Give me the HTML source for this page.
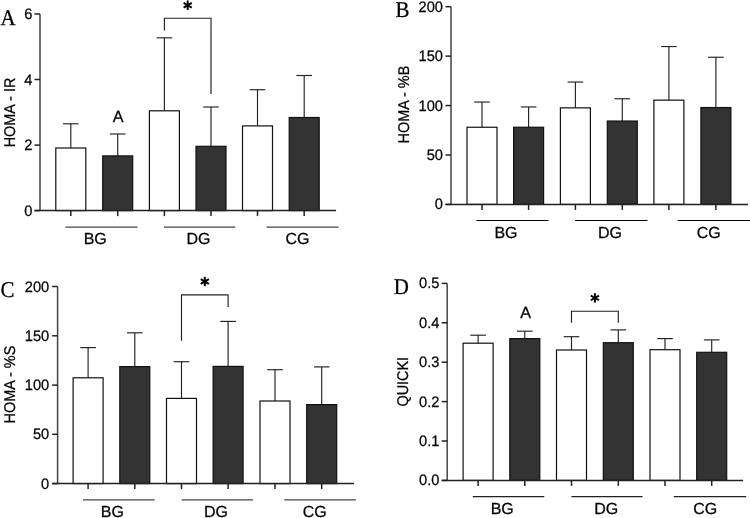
<!DOCTYPE html>
<html><head><meta charset="utf-8"><style>
html,body{margin:0;padding:0;background:#fff;}
body{width:750px;height:518px;overflow:hidden;font-family:"Liberation Sans",sans-serif;}
svg{display:block;will-change:transform;}
text{text-rendering:geometricPrecision;stroke:#000;stroke-width:0.25px;paint-order:stroke;}
</style></head><body>
<svg width="750" height="518" viewBox="0 0 750 518">
<rect width="750" height="518" fill="#fff"/>
<line x1="70.80" y1="123.80" x2="70.80" y2="148.00" stroke="#222" stroke-width="1.15"/>
<line x1="63.00" y1="123.80" x2="78.60" y2="123.80" stroke="#222" stroke-width="1.15"/>
<rect x="55.80" y="148.00" width="30.00" height="62.60" fill="#fff" stroke="#111" stroke-width="1.2"/>
<line x1="70.80" y1="210.60" x2="70.80" y2="216.10" stroke="#222" stroke-width="1.5"/>
<line x1="117.70" y1="134.00" x2="117.70" y2="155.90" stroke="#222" stroke-width="1.15"/>
<line x1="109.90" y1="134.00" x2="125.50" y2="134.00" stroke="#222" stroke-width="1.15"/>
<rect x="102.70" y="155.90" width="30.00" height="54.70" fill="#333" stroke="#111" stroke-width="1.2"/>
<line x1="117.70" y1="210.60" x2="117.70" y2="216.10" stroke="#222" stroke-width="1.5"/>
<line x1="164.40" y1="37.80" x2="164.40" y2="110.80" stroke="#222" stroke-width="1.15"/>
<line x1="156.60" y1="37.80" x2="172.20" y2="37.80" stroke="#222" stroke-width="1.15"/>
<rect x="149.40" y="110.80" width="30.00" height="99.80" fill="#fff" stroke="#111" stroke-width="1.2"/>
<line x1="164.40" y1="210.60" x2="164.40" y2="216.10" stroke="#222" stroke-width="1.5"/>
<line x1="211.00" y1="107.00" x2="211.00" y2="146.30" stroke="#222" stroke-width="1.15"/>
<line x1="203.20" y1="107.00" x2="218.80" y2="107.00" stroke="#222" stroke-width="1.15"/>
<rect x="196.00" y="146.30" width="30.00" height="64.30" fill="#333" stroke="#111" stroke-width="1.2"/>
<line x1="211.00" y1="210.60" x2="211.00" y2="216.10" stroke="#222" stroke-width="1.5"/>
<line x1="257.50" y1="89.70" x2="257.50" y2="125.90" stroke="#222" stroke-width="1.15"/>
<line x1="249.70" y1="89.70" x2="265.30" y2="89.70" stroke="#222" stroke-width="1.15"/>
<rect x="242.50" y="125.90" width="30.00" height="84.70" fill="#fff" stroke="#111" stroke-width="1.2"/>
<line x1="257.50" y1="210.60" x2="257.50" y2="216.10" stroke="#222" stroke-width="1.5"/>
<line x1="304.20" y1="75.50" x2="304.20" y2="117.50" stroke="#222" stroke-width="1.15"/>
<line x1="296.40" y1="75.50" x2="312.00" y2="75.50" stroke="#222" stroke-width="1.15"/>
<rect x="289.20" y="117.50" width="30.00" height="93.10" fill="#333" stroke="#111" stroke-width="1.2"/>
<line x1="304.20" y1="210.60" x2="304.20" y2="216.10" stroke="#222" stroke-width="1.5"/>
<line x1="40.00" y1="14.00" x2="40.00" y2="210.60" stroke="#444" stroke-width="1.5"/>
<line x1="34.50" y1="210.60" x2="336.10" y2="210.60" stroke="#222" stroke-width="1.5"/>
<line x1="34.50" y1="210.60" x2="40.00" y2="210.60" stroke="#222" stroke-width="1.5"/>
<text x="0" y="0" font-size="15.2" font-family="Liberation Sans" text-anchor="end" transform="translate(32.50,215.60) scale(0.965,1)">0</text>
<line x1="34.50" y1="145.10" x2="40.00" y2="145.10" stroke="#222" stroke-width="1.5"/>
<text x="0" y="0" font-size="15.2" font-family="Liberation Sans" text-anchor="end" transform="translate(32.50,150.10) scale(0.965,1)">2</text>
<line x1="34.50" y1="79.50" x2="40.00" y2="79.50" stroke="#222" stroke-width="1.5"/>
<text x="0" y="0" font-size="15.2" font-family="Liberation Sans" text-anchor="end" transform="translate(32.50,84.50) scale(0.965,1)">4</text>
<line x1="34.50" y1="14.00" x2="40.00" y2="14.00" stroke="#222" stroke-width="1.5"/>
<text x="0" y="0" font-size="15.2" font-family="Liberation Sans" text-anchor="end" transform="translate(32.50,19.00) scale(0.965,1)">6</text>
<line x1="65.50" y1="227.10" x2="137.50" y2="227.10" stroke="#444" stroke-width="1.3"/>
<line x1="164.00" y1="227.10" x2="235.30" y2="227.10" stroke="#444" stroke-width="1.3"/>
<line x1="266.50" y1="227.10" x2="338.50" y2="227.10" stroke="#444" stroke-width="1.3"/>
<text x="0" y="0" font-size="16" font-family="Liberation Sans" text-anchor="middle" transform="translate(95.20,244.00) scale(1.0,1)">BG</text>
<text x="0" y="0" font-size="16" font-family="Liberation Sans" text-anchor="middle" transform="translate(198.40,244.00) scale(1.0,1)">DG</text>
<text x="0" y="0" font-size="16" font-family="Liberation Sans" text-anchor="middle" transform="translate(297.40,244.00) scale(1.0,1)">CG</text>
<text x="0" y="0" font-size="15.5" font-family="Liberation Sans" text-anchor="middle" transform="translate(15.00,112.50) rotate(-90) scale(0.93,1)">HOMA - IR</text>
<text x="0" y="0" font-size="22.5" font-family="Liberation Serif" transform="translate(0.50,25.00) scale(0.933,1)">A</text>
<polyline points="164.4,30.6 164.4,18.2 211.0,18.2 211.0,94" fill="none" stroke="#222" stroke-width="1.15"/>
<line x1="187.70" y1="0.50" x2="187.70" y2="9.90" stroke="#000" stroke-width="2.0"/>
<line x1="183.63" y1="2.85" x2="191.77" y2="7.55" stroke="#000" stroke-width="2.0"/>
<line x1="183.63" y1="7.55" x2="191.77" y2="2.85" stroke="#000" stroke-width="2.0"/>
<text x="0" y="0" font-size="16.2" font-family="Liberation Sans" text-anchor="middle" transform="translate(118.20,121.80) scale(1.0,1)">A</text>
<line x1="482.00" y1="102.05" x2="482.00" y2="127.25" stroke="#222" stroke-width="1.15"/>
<line x1="474.20" y1="102.05" x2="489.80" y2="102.05" stroke="#222" stroke-width="1.15"/>
<rect x="467.00" y="127.25" width="30.00" height="77.15" fill="#fff" stroke="#111" stroke-width="1.2"/>
<line x1="482.00" y1="204.40" x2="482.00" y2="209.90" stroke="#222" stroke-width="1.5"/>
<line x1="528.60" y1="106.95" x2="528.60" y2="127.25" stroke="#222" stroke-width="1.15"/>
<line x1="520.80" y1="106.95" x2="536.40" y2="106.95" stroke="#222" stroke-width="1.15"/>
<rect x="513.60" y="127.25" width="30.00" height="77.15" fill="#333" stroke="#111" stroke-width="1.2"/>
<line x1="528.60" y1="204.40" x2="528.60" y2="209.90" stroke="#222" stroke-width="1.5"/>
<line x1="575.40" y1="82.05" x2="575.40" y2="107.85" stroke="#222" stroke-width="1.15"/>
<line x1="567.60" y1="82.05" x2="583.20" y2="82.05" stroke="#222" stroke-width="1.15"/>
<rect x="560.40" y="107.85" width="30.00" height="96.55" fill="#fff" stroke="#111" stroke-width="1.2"/>
<line x1="575.40" y1="204.40" x2="575.40" y2="209.90" stroke="#222" stroke-width="1.5"/>
<line x1="622.30" y1="98.75" x2="622.30" y2="121.05" stroke="#222" stroke-width="1.15"/>
<line x1="614.50" y1="98.75" x2="630.10" y2="98.75" stroke="#222" stroke-width="1.15"/>
<rect x="607.30" y="121.05" width="30.00" height="83.35" fill="#333" stroke="#111" stroke-width="1.2"/>
<line x1="622.30" y1="204.40" x2="622.30" y2="209.90" stroke="#222" stroke-width="1.5"/>
<line x1="668.90" y1="46.55" x2="668.90" y2="100.15" stroke="#222" stroke-width="1.15"/>
<line x1="661.10" y1="46.55" x2="676.70" y2="46.55" stroke="#222" stroke-width="1.15"/>
<rect x="653.90" y="100.15" width="30.00" height="104.25" fill="#fff" stroke="#111" stroke-width="1.2"/>
<line x1="668.90" y1="204.40" x2="668.90" y2="209.90" stroke="#222" stroke-width="1.5"/>
<line x1="715.90" y1="57.25" x2="715.90" y2="107.55" stroke="#222" stroke-width="1.15"/>
<line x1="708.10" y1="57.25" x2="723.70" y2="57.25" stroke="#222" stroke-width="1.15"/>
<rect x="700.90" y="107.55" width="30.00" height="96.85" fill="#333" stroke="#111" stroke-width="1.2"/>
<line x1="715.90" y1="204.40" x2="715.90" y2="209.90" stroke="#222" stroke-width="1.5"/>
<line x1="451.00" y1="6.70" x2="451.00" y2="204.40" stroke="#444" stroke-width="1.5"/>
<line x1="445.50" y1="204.40" x2="748.00" y2="204.40" stroke="#222" stroke-width="1.5"/>
<line x1="445.50" y1="204.40" x2="451.00" y2="204.40" stroke="#222" stroke-width="1.5"/>
<text x="0" y="0" font-size="15.2" font-family="Liberation Sans" text-anchor="end" transform="translate(443.00,209.40) scale(0.965,1)">0</text>
<line x1="445.50" y1="154.97" x2="451.00" y2="154.97" stroke="#222" stroke-width="1.5"/>
<text x="0" y="0" font-size="15.2" font-family="Liberation Sans" text-anchor="end" transform="translate(443.00,159.97) scale(0.965,1)">50</text>
<line x1="445.50" y1="105.55" x2="451.00" y2="105.55" stroke="#222" stroke-width="1.5"/>
<text x="0" y="0" font-size="15.2" font-family="Liberation Sans" text-anchor="end" transform="translate(443.00,110.55) scale(0.965,1)">100</text>
<line x1="445.50" y1="56.12" x2="451.00" y2="56.12" stroke="#222" stroke-width="1.5"/>
<text x="0" y="0" font-size="15.2" font-family="Liberation Sans" text-anchor="end" transform="translate(443.00,61.12) scale(0.965,1)">150</text>
<line x1="445.50" y1="6.70" x2="451.00" y2="6.70" stroke="#222" stroke-width="1.5"/>
<text x="0" y="0" font-size="15.2" font-family="Liberation Sans" text-anchor="end" transform="translate(443.00,11.70) scale(0.965,1)">200</text>
<line x1="476.50" y1="220.50" x2="548.50" y2="220.50" stroke="#000" stroke-width="1.0"/>
<line x1="575.20" y1="220.50" x2="647.50" y2="220.50" stroke="#000" stroke-width="1.0"/>
<line x1="677.70" y1="220.50" x2="750.00" y2="220.50" stroke="#000" stroke-width="1.0"/>
<text x="0" y="0" font-size="16" font-family="Liberation Sans" text-anchor="middle" transform="translate(506.00,237.80) scale(1.0,1)">BG</text>
<text x="0" y="0" font-size="16" font-family="Liberation Sans" text-anchor="middle" transform="translate(610.00,237.80) scale(1.0,1)">DG</text>
<text x="0" y="0" font-size="16" font-family="Liberation Sans" text-anchor="middle" transform="translate(708.80,237.80) scale(1.0,1)">CG</text>
<text x="0" y="0" font-size="15.5" font-family="Liberation Sans" text-anchor="middle" transform="translate(409.00,104.60) rotate(-90) scale(0.93,1)">HOMA - %B</text>
<text x="0" y="0" font-size="22.5" font-family="Liberation Serif" transform="translate(395.50,17.00) scale(0.933,1)">B</text>
<line x1="88.10" y1="347.60" x2="88.10" y2="377.80" stroke="#222" stroke-width="1.15"/>
<line x1="80.30" y1="347.60" x2="95.90" y2="347.60" stroke="#222" stroke-width="1.15"/>
<rect x="73.10" y="377.80" width="30.00" height="105.80" fill="#fff" stroke="#111" stroke-width="1.2"/>
<line x1="88.10" y1="483.60" x2="88.10" y2="489.10" stroke="#222" stroke-width="1.5"/>
<line x1="134.80" y1="332.80" x2="134.80" y2="366.60" stroke="#222" stroke-width="1.15"/>
<line x1="127.00" y1="332.80" x2="142.60" y2="332.80" stroke="#222" stroke-width="1.15"/>
<rect x="119.80" y="366.60" width="30.00" height="117.00" fill="#333" stroke="#111" stroke-width="1.2"/>
<line x1="134.80" y1="483.60" x2="134.80" y2="489.10" stroke="#222" stroke-width="1.5"/>
<line x1="181.50" y1="361.70" x2="181.50" y2="398.40" stroke="#222" stroke-width="1.15"/>
<line x1="173.70" y1="361.70" x2="189.30" y2="361.70" stroke="#222" stroke-width="1.15"/>
<rect x="166.50" y="398.40" width="30.00" height="85.20" fill="#fff" stroke="#111" stroke-width="1.2"/>
<line x1="181.50" y1="483.60" x2="181.50" y2="489.10" stroke="#222" stroke-width="1.5"/>
<line x1="228.10" y1="321.40" x2="228.10" y2="366.40" stroke="#222" stroke-width="1.15"/>
<line x1="220.30" y1="321.40" x2="235.90" y2="321.40" stroke="#222" stroke-width="1.15"/>
<rect x="213.10" y="366.40" width="30.00" height="117.20" fill="#333" stroke="#111" stroke-width="1.2"/>
<line x1="228.10" y1="483.60" x2="228.10" y2="489.10" stroke="#222" stroke-width="1.5"/>
<line x1="275.00" y1="369.70" x2="275.00" y2="401.00" stroke="#222" stroke-width="1.15"/>
<line x1="267.20" y1="369.70" x2="282.80" y2="369.70" stroke="#222" stroke-width="1.15"/>
<rect x="260.00" y="401.00" width="30.00" height="82.60" fill="#fff" stroke="#111" stroke-width="1.2"/>
<line x1="275.00" y1="483.60" x2="275.00" y2="489.10" stroke="#222" stroke-width="1.5"/>
<line x1="321.70" y1="366.90" x2="321.70" y2="404.60" stroke="#222" stroke-width="1.15"/>
<line x1="313.90" y1="366.90" x2="329.50" y2="366.90" stroke="#222" stroke-width="1.15"/>
<rect x="306.70" y="404.60" width="30.00" height="79.00" fill="#333" stroke="#111" stroke-width="1.2"/>
<line x1="321.70" y1="483.60" x2="321.70" y2="489.10" stroke="#222" stroke-width="1.5"/>
<line x1="57.60" y1="286.50" x2="57.60" y2="483.60" stroke="#444" stroke-width="1.5"/>
<line x1="52.10" y1="483.60" x2="354.00" y2="483.60" stroke="#222" stroke-width="1.5"/>
<line x1="52.10" y1="483.60" x2="57.60" y2="483.60" stroke="#222" stroke-width="1.5"/>
<text x="0" y="0" font-size="15.2" font-family="Liberation Sans" text-anchor="end" transform="translate(49.20,488.60) scale(0.965,1)">0</text>
<line x1="52.10" y1="434.30" x2="57.60" y2="434.30" stroke="#222" stroke-width="1.5"/>
<text x="0" y="0" font-size="15.2" font-family="Liberation Sans" text-anchor="end" transform="translate(49.20,439.30) scale(0.965,1)">50</text>
<line x1="52.10" y1="385.10" x2="57.60" y2="385.10" stroke="#222" stroke-width="1.5"/>
<text x="0" y="0" font-size="15.2" font-family="Liberation Sans" text-anchor="end" transform="translate(49.20,390.10) scale(0.965,1)">100</text>
<line x1="52.10" y1="335.80" x2="57.60" y2="335.80" stroke="#222" stroke-width="1.5"/>
<text x="0" y="0" font-size="15.2" font-family="Liberation Sans" text-anchor="end" transform="translate(49.20,340.80) scale(0.965,1)">150</text>
<line x1="52.10" y1="286.50" x2="57.60" y2="286.50" stroke="#222" stroke-width="1.5"/>
<text x="0" y="0" font-size="15.2" font-family="Liberation Sans" text-anchor="end" transform="translate(49.20,291.50) scale(0.965,1)">200</text>
<line x1="83.00" y1="499.90" x2="154.60" y2="499.90" stroke="#444" stroke-width="1.3"/>
<line x1="181.70" y1="499.90" x2="253.10" y2="499.90" stroke="#444" stroke-width="1.3"/>
<line x1="284.30" y1="499.90" x2="355.80" y2="499.90" stroke="#444" stroke-width="1.3"/>
<text x="0" y="0" font-size="16" font-family="Liberation Sans" text-anchor="middle" transform="translate(112.40,516.60) scale(1.0,1)">BG</text>
<text x="0" y="0" font-size="16" font-family="Liberation Sans" text-anchor="middle" transform="translate(215.90,516.60) scale(1.0,1)">DG</text>
<text x="0" y="0" font-size="16" font-family="Liberation Sans" text-anchor="middle" transform="translate(314.70,516.60) scale(1.0,1)">CG</text>
<text x="0" y="0" font-size="15.5" font-family="Liberation Sans" text-anchor="middle" transform="translate(14.60,384.60) rotate(-90) scale(0.93,1)">HOMA - %S</text>
<text x="0" y="0" font-size="22.5" font-family="Liberation Serif" transform="translate(0.40,297.00) scale(0.933,1)">C</text>
<polyline points="181.5,340.7 181.5,294.8 228.1,294.8 228.1,307.0" fill="none" stroke="#222" stroke-width="1.15"/>
<line x1="204.80" y1="276.80" x2="204.80" y2="286.20" stroke="#000" stroke-width="2.0"/>
<line x1="200.73" y1="279.15" x2="208.87" y2="283.85" stroke="#000" stroke-width="2.0"/>
<line x1="200.73" y1="283.85" x2="208.87" y2="279.15" stroke="#000" stroke-width="2.0"/>
<line x1="478.10" y1="335.20" x2="478.10" y2="343.20" stroke="#222" stroke-width="1.15"/>
<line x1="470.30" y1="335.20" x2="485.90" y2="335.20" stroke="#222" stroke-width="1.15"/>
<rect x="463.10" y="343.20" width="30.00" height="137.20" fill="#fff" stroke="#111" stroke-width="1.2"/>
<line x1="478.10" y1="480.40" x2="478.10" y2="485.90" stroke="#222" stroke-width="1.5"/>
<line x1="524.80" y1="331.20" x2="524.80" y2="338.60" stroke="#222" stroke-width="1.15"/>
<line x1="517.00" y1="331.20" x2="532.60" y2="331.20" stroke="#222" stroke-width="1.15"/>
<rect x="509.80" y="338.60" width="30.00" height="141.80" fill="#333" stroke="#111" stroke-width="1.2"/>
<line x1="524.80" y1="480.40" x2="524.80" y2="485.90" stroke="#222" stroke-width="1.5"/>
<line x1="571.50" y1="336.70" x2="571.50" y2="350.00" stroke="#222" stroke-width="1.15"/>
<line x1="563.70" y1="336.70" x2="579.30" y2="336.70" stroke="#222" stroke-width="1.15"/>
<rect x="556.50" y="350.00" width="30.00" height="130.40" fill="#fff" stroke="#111" stroke-width="1.2"/>
<line x1="571.50" y1="480.40" x2="571.50" y2="485.90" stroke="#222" stroke-width="1.5"/>
<line x1="618.30" y1="329.90" x2="618.30" y2="342.70" stroke="#222" stroke-width="1.15"/>
<line x1="610.50" y1="329.90" x2="626.10" y2="329.90" stroke="#222" stroke-width="1.15"/>
<rect x="603.30" y="342.70" width="30.00" height="137.70" fill="#333" stroke="#111" stroke-width="1.2"/>
<line x1="618.30" y1="480.40" x2="618.30" y2="485.90" stroke="#222" stroke-width="1.5"/>
<line x1="665.00" y1="338.60" x2="665.00" y2="349.70" stroke="#222" stroke-width="1.15"/>
<line x1="657.20" y1="338.60" x2="672.80" y2="338.60" stroke="#222" stroke-width="1.15"/>
<rect x="650.00" y="349.70" width="30.00" height="130.70" fill="#fff" stroke="#111" stroke-width="1.2"/>
<line x1="665.00" y1="480.40" x2="665.00" y2="485.90" stroke="#222" stroke-width="1.5"/>
<line x1="711.70" y1="339.90" x2="711.70" y2="352.30" stroke="#222" stroke-width="1.15"/>
<line x1="703.90" y1="339.90" x2="719.50" y2="339.90" stroke="#222" stroke-width="1.15"/>
<rect x="696.70" y="352.30" width="30.00" height="128.10" fill="#333" stroke="#111" stroke-width="1.2"/>
<line x1="711.70" y1="480.40" x2="711.70" y2="485.90" stroke="#222" stroke-width="1.5"/>
<line x1="447.20" y1="283.40" x2="447.20" y2="480.40" stroke="#444" stroke-width="1.5"/>
<line x1="441.70" y1="480.40" x2="743.10" y2="480.40" stroke="#222" stroke-width="1.5"/>
<line x1="441.70" y1="480.40" x2="447.20" y2="480.40" stroke="#222" stroke-width="1.5"/>
<text x="0" y="0" font-size="15.2" font-family="Liberation Sans" text-anchor="end" transform="translate(439.50,485.40) scale(0.965,1)">0.0</text>
<line x1="441.70" y1="441.00" x2="447.20" y2="441.00" stroke="#222" stroke-width="1.5"/>
<text x="0" y="0" font-size="15.2" font-family="Liberation Sans" text-anchor="end" transform="translate(439.50,446.00) scale(0.965,1)">0.1</text>
<line x1="441.70" y1="401.60" x2="447.20" y2="401.60" stroke="#222" stroke-width="1.5"/>
<text x="0" y="0" font-size="15.2" font-family="Liberation Sans" text-anchor="end" transform="translate(439.50,406.60) scale(0.965,1)">0.2</text>
<line x1="441.70" y1="362.20" x2="447.20" y2="362.20" stroke="#222" stroke-width="1.5"/>
<text x="0" y="0" font-size="15.2" font-family="Liberation Sans" text-anchor="end" transform="translate(439.50,367.20) scale(0.965,1)">0.3</text>
<line x1="441.70" y1="322.80" x2="447.20" y2="322.80" stroke="#222" stroke-width="1.5"/>
<text x="0" y="0" font-size="15.2" font-family="Liberation Sans" text-anchor="end" transform="translate(439.50,327.80) scale(0.965,1)">0.4</text>
<line x1="441.70" y1="283.40" x2="447.20" y2="283.40" stroke="#222" stroke-width="1.5"/>
<text x="0" y="0" font-size="15.2" font-family="Liberation Sans" text-anchor="end" transform="translate(439.50,288.40) scale(0.965,1)">0.5</text>
<line x1="472.80" y1="496.70" x2="544.30" y2="496.70" stroke="#222" stroke-width="1.2"/>
<line x1="571.40" y1="496.70" x2="642.50" y2="496.70" stroke="#222" stroke-width="1.2"/>
<line x1="673.80" y1="496.70" x2="746.20" y2="496.70" stroke="#222" stroke-width="1.2"/>
<text x="0" y="0" font-size="16" font-family="Liberation Sans" text-anchor="middle" transform="translate(502.20,513.90) scale(1.0,1)">BG</text>
<text x="0" y="0" font-size="16" font-family="Liberation Sans" text-anchor="middle" transform="translate(606.20,513.90) scale(1.0,1)">DG</text>
<text x="0" y="0" font-size="16" font-family="Liberation Sans" text-anchor="middle" transform="translate(705.20,513.90) scale(1.0,1)">CG</text>
<text x="0" y="0" font-size="15.5" font-family="Liberation Sans" text-anchor="middle" transform="translate(408.00,381.70) rotate(-90) scale(0.93,1)">QUICKI</text>
<text x="0" y="0" font-size="22.5" font-family="Liberation Serif" transform="translate(393.70,294.00) scale(0.933,1)">D</text>
<polyline points="571.5,322.8 571.5,311.2 618.3,311.2 618.3,322.8" fill="none" stroke="#222" stroke-width="1.15"/>
<line x1="594.90" y1="293.20" x2="594.90" y2="302.60" stroke="#000" stroke-width="2.0"/>
<line x1="590.83" y1="295.55" x2="598.97" y2="300.25" stroke="#000" stroke-width="2.0"/>
<line x1="590.83" y1="300.25" x2="598.97" y2="295.55" stroke="#000" stroke-width="2.0"/>
<text x="0" y="0" font-size="16.2" font-family="Liberation Sans" text-anchor="middle" transform="translate(525.70,318.40) scale(1.0,1)">A</text>
</svg>
</body></html>
